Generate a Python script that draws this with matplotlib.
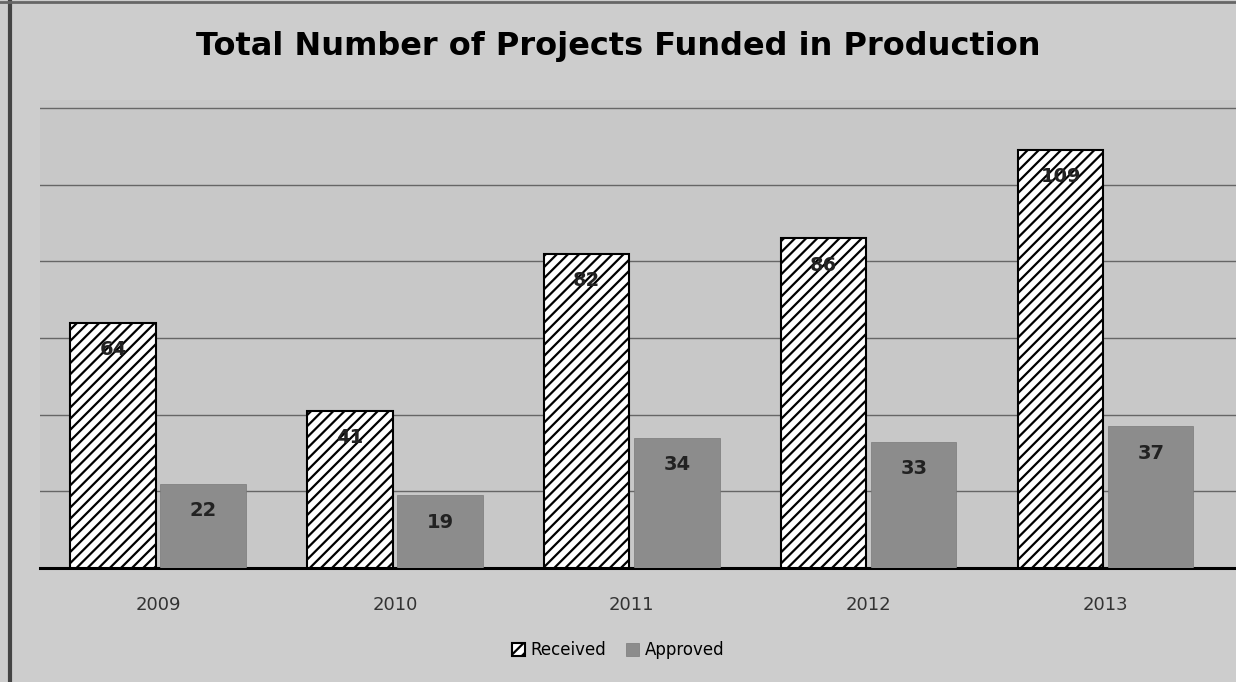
import numpy as np
import matplotlib
matplotlib.use('Agg')
import matplotlib.pyplot as plt

plt.rcParams['hatch.linewidth'] = 1.6
plt.rcParams['font.family'] = 'DejaVu Sans'

years = ['2009', '2010', '2011', '2012', '2013']
received = [64, 41, 82, 86, 109]
approved = [22, 19, 34, 33, 37]

fig = plt.figure(figsize=(12.36, 6.82), dpi=100, facecolor='#cdcdcd')
ax = fig.add_axes([0.032, 0.167, 0.968, 0.686])
ax.set_facecolor('#c8c8c8')

x = np.arange(len(years))
w = 0.36
b1 = ax.bar(x - w / 2 - 0.01, received, w, color='white', edgecolor='black',
            hatch='///', linewidth=1.5, label='Received', zorder=3)
b2 = ax.bar(x + w / 2 + 0.01, approved, w, color='#8c8c8c', edgecolor='#7a7a7a',
            linewidth=0.5, label='Approved', zorder=3)

for bars in (b1, b2):
    for r in bars:
        ax.text(r.get_x() + r.get_width() / 2, r.get_height() - 7, str(int(r.get_height())),
                ha='center', va='center', fontsize=14, fontweight='bold', color='#222222',
                zorder=4)

ax.set_xlim(-0.5, 4.55)
ax.set_ylim(0, 122)
ax.set_yticks([20, 40, 60, 80, 100, 120])
ax.yaxis.grid(True, color='#666666', linewidth=1.0, zorder=0)
ax.tick_params(axis='y', left=False, labelleft=False)
ax.tick_params(axis='x', length=0, pad=20, labelsize=13, labelcolor='#333333')
ax.set_xticks(x)
ax.set_xticklabels(years)
for s in ['top', 'right', 'left']:
    ax.spines[s].set_visible(False)
ax.spines['bottom'].set_linewidth(2.2)
ax.spines['bottom'].set_color('black')

fig.text(0.5, 0.932, 'Total Number of Projects Funded in Production', ha='center', va='center',
         fontsize=23, fontweight='bold', color='black')

fig.legend(handles=[b1, b2], loc='center', bbox_to_anchor=(0.5, 0.047), ncol=2, frameon=False,
           fontsize=12, handlelength=0.8, handleheight=0.8, columnspacing=1.2, handletextpad=0.3)

fig.add_artist(plt.Line2D([0.008, 0.008], [0, 1], color='#444444', linewidth=3))
fig.add_artist(plt.Line2D([0, 1], [0.997, 0.997], color='#666666', linewidth=2))

fig.savefig('out.png', dpi=100, facecolor=fig.get_facecolor())
